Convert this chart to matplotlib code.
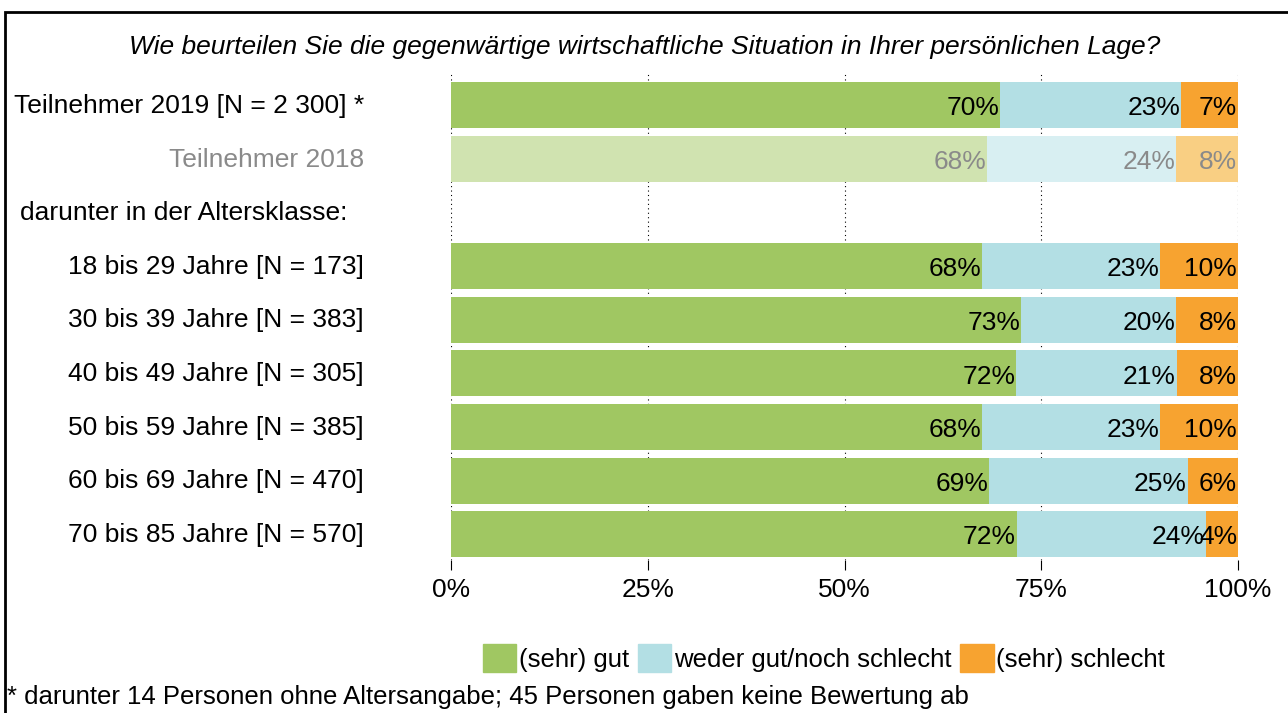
import numpy as np
import matplotlib.pyplot as plt
from matplotlib.patches import Rectangle

plt.rcParams['font.family'] = ['Liberation Sans', 'DejaVu Sans']

# rows (top to bottom); None = empty row for the sub heading
rows = ['Teilnehmer 2019 [N = 2 300] *', 'Teilnehmer 2018', None,
        '18 bis 29 Jahre [N = 173]', '30 bis 39 Jahre [N = 383]',
        '40 bis 49 Jahre [N = 305]', '50 bis 59 Jahre [N = 385]',
        '60 bis 69 Jahre [N = 470]', '70 bis 85 Jahre [N = 570]']

# shares in percent (bar widths)
gut = [69.8, 68.1, 0, 67.5, 72.4, 71.8, 67.5, 68.4, 71.9]
weder = [23.0, 24.0, 0, 22.6, 19.7, 20.4, 22.6, 25.2, 24.0]
schlecht = [7.2, 7.9, 0, 9.9, 7.9, 7.8, 9.9, 6.4, 4.1]

# printed labels
lab_gut = [70, 68, None, 68, 73, 72, 68, 69, 72]
lab_weder = [23, 24, None, 23, 20, 21, 23, 25, 24]
lab_schlecht = [7, 8, None, 10, 8, 8, 10, 6, 4]

series = ['(sehr) gut', 'weder gut/noch schlecht', '(sehr) schlecht']
colors = ['#A0C762', '#B3DFE4', '#F7A330']
colors_light = ['#D0E3B0', '#D8EFF2', '#F9CF83']

fs = 19
W, H = 1288, 713
fig = plt.figure(figsize=(W / 100, H / 100), dpi=100)
ax = fig.add_axes([451 / W, 1 - 560 / H, (1238 - 451) / W, (560 - 73) / H])

y = np.arange(len(rows))
vals = np.array([gut, weder, schlecht])
labs = [lab_gut, lab_weder, lab_schlecht]
left = np.zeros(len(rows))
for k in range(3):
    for i in range(len(rows)):
        if rows[i] is None:
            continue
        c = colors_light[k] if i == 1 else colors[k]
        ax.barh(y[i], vals[k][i], left=left[i], height=0.86, color=c, zorder=2)
        tc = '#8a8a8a' if i == 1 else 'black'
        ax.text(left[i] + vals[k][i] - 0.1, y[i] + 0.06, '%d%%' % labs[k][i],
                ha='right', va='center', fontsize=fs, color=tc, zorder=3)
    left = left + vals[k]

ax.set_xlim(0, 100)
ax.set_ylim(8.48, -0.6)
ax.set_xticks([0, 25, 50, 75, 100])
ax.set_xticklabels(['0%', '25%', '50%', '75%', '100%'], fontsize=fs)
ax.tick_params(axis='x', length=7, width=0.8, pad=6)
ax.set_yticks([])
for s in ax.spines.values():
    s.set_visible(False)
ax.grid(axis='x', linestyle=(0, (1, 3)), color='black', linewidth=0.8, zorder=0)

# row labels
for i, r in enumerate(rows):
    if r is None:
        continue
    col = '#8a8a8a' if i == 1 else 'black'
    fig.text(364 / W, 1 - (y[i] * 53.6 + 106) / H, r, ha='right', va='center',
             fontsize=fs, color=col)
fig.text(20 / W, 1 - 213 / H, 'darunter in der Altersklasse:', ha='left',
         va='center', fontsize=fs)

fig.text(645 / W, 1 - 47 / H,
         'Wie beurteilen Sie die gegenwärtige wirtschaftliche Situation in Ihrer persönlichen Lage?',
         ha='center', va='center', fontsize=fs, style='italic')

# legend
handles = [Rectangle((0, 0), 1, 1, color=c) for c in colors]
fig.legend(handles, series, loc='center', bbox_to_anchor=(824 / W, 1 - 658 / H),
           ncol=3, frameon=False, fontsize=18.5, handlelength=1.3, handleheight=1.3,
           handletextpad=0.1, columnspacing=0.35, borderpad=0)

fig.text(7 / W, 1 - 697 / H,
         '* darunter 14 Personen ohne Altersangabe; 45 Personen gaben keine Bewertung ab',
         ha='left', va='center', fontsize=18.5)

# outer frame
fig.add_artist(Rectangle((5 / W, -0.1), 1.1, 1 - 12 / H + 0.1, transform=fig.transFigure,
                         fill=False, edgecolor='black', linewidth=2))

fig.savefig('out.png', dpi=100)
